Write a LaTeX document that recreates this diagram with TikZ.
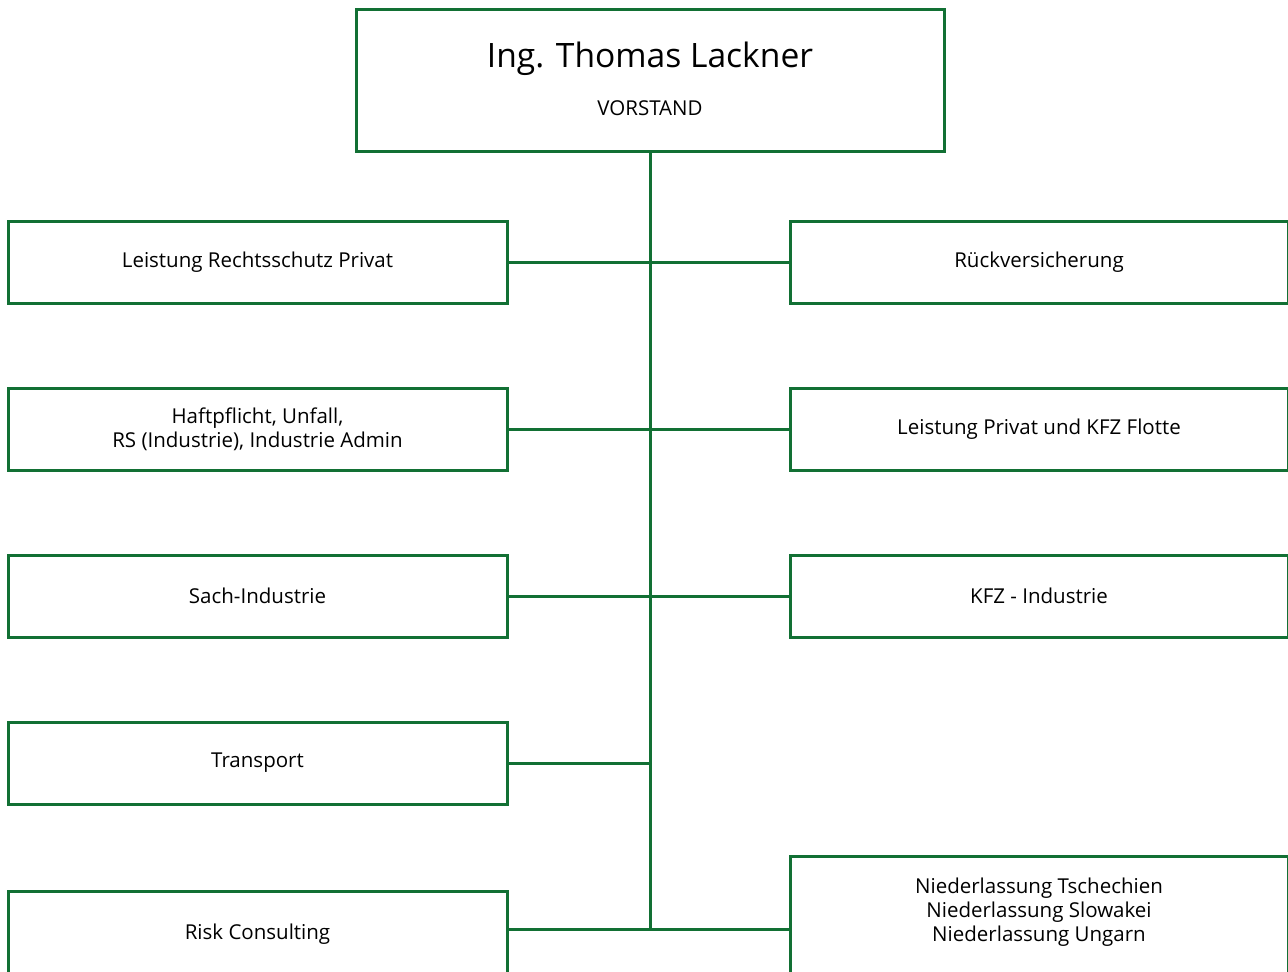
\documentclass[tikz,border=0pt]{standalone}
\usepackage{fontspec}
\setmainfont{Open Sans}
\usepackage{tikz}
\definecolor{orggreen}{RGB}{18,112,52}

\begin{document}
\begin{tikzpicture}[x=1pt, y=-1pt,
    unit/.style={draw=orggreen, line width=3pt, minimum width=499pt,
        minimum height=82pt, inner sep=0pt, align=center,
        font=\fontsize{20.5}{24}\selectfont},
    link/.style={draw=orggreen, line width=3pt}]
    \useasboundingbox (0,0) rectangle (1288,972);

    % Board at the top
    \node[unit, minimum width=588pt, minimum height=142pt] (board) at (650,80) {};
    \node[anchor=base, font=\fontsize{33.6}{40}\selectfont] (boardname) at (650,67) {Ing. Thomas Lackner};
    \node[anchor=base, font=\fontsize{20.5}{24}\selectfont] (boardrole) at (650,115) {VORSTAND};

    % Departments on the left
    \node[unit] (privat) at (257.5,262) {Leistung Rechtsschutz Privat};
    \node[unit] (haft) at (257.5,429) {Haftpflicht, Unfall,\\RS (Industrie), Industrie Admin};
    \node[unit] (sach) at (257.5,596) {Sach-Industrie};
    \node[unit] (transport) at (257.5,763) {Transport};
    \node[unit, minimum height=86pt] (risk) at (257.5,934) {Risk Consulting};

    % Departments on the right
    \node[unit, minimum width=498pt] (rueck) at (1039,262) {Rückversicherung};
    \node[unit, minimum width=498pt] (flotte) at (1039,429) {Leistung Privat und KFZ Flotte};
    \node[unit, minimum width=498pt] (kfz) at (1039,596) {KFZ - Industrie};
    \node[unit, minimum width=498pt, minimum height=124pt,
        label={[name=niedertext, align=center, yshift=6pt,
        font=\fontsize{20.5}{24}\selectfont]center:Niederlassung Tschechien\\Niederlassung Slowakei\\Niederlassung Ungarn}]
        (nieder) at (1039,918) {};

    % Spine and branches
    \coordinate (junc) at (650,929);
    \draw[link] (board.south) -- (junc);
    \draw[link] (privat.east) -- (rueck.west);
    \draw[link] (haft.east) -- (flotte.west);
    \draw[link] (sach.east) -- (kfz.west);
    \draw[link] (transport.east) -- (board.south |- transport.east);
    \draw[link] (risk.east |- junc) -- (nieder.west |- junc);
\end{tikzpicture}
\end{document}
